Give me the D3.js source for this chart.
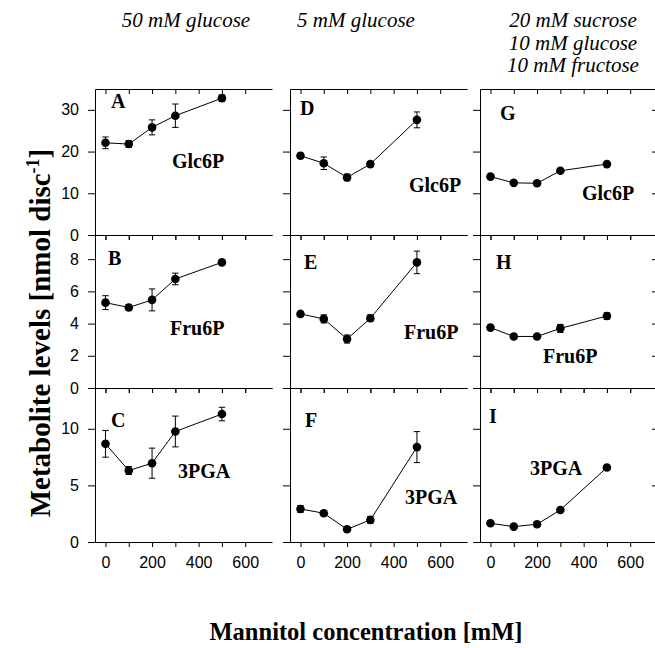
<!DOCTYPE html>
<meta charset="utf-8">
<style>
body { margin: 0; background: #fff; }
svg { display: block; }
.tick text { font-family: "Liberation Sans", Arial, sans-serif; font-size: 16px; fill: #000; }
.domain, .tick line { stroke: #000; stroke-width: 1; }
.lbl { font-family: 'Liberation Serif', 'DejaVu Serif', serif; font-weight: bold; fill: #000; }
.hdr { font-family: 'Liberation Serif', 'DejaVu Serif', serif; font-style: italic; font-size: 21px; fill: #000; }
</style>
<svg width="655" height="648"></svg>
<script src="https://cdn.jsdelivr.net/npm/d3@7"></script>
<script>

// mannitol concentration (mM)
var mannitol = [0, 100, 200, 300, 500];

// Glc6P (nmol/disc)
var glc6p_50glc = [22.1, 21.8, 25.8, 28.6, 32.8];
var glc6p_50glc_err = [1.4, 0.8, 1.8, 2.8, 0.8];
var glc6p_5glc = [19.0, 17.2, 13.8, 17.0, 27.6];
var glc6p_5glc_err = [0.6, 1.5, 0.8, 0.6, 1.9];
var glc6p_mix = [14.0, 12.5, 12.4, 15.4, 17.0];
var glc6p_mix_err = [0.4, 0.4, 0.4, 0.4, 0.4];

// Fru6P
var fru6p_50glc = [5.3, 5.0, 5.47, 6.77, 7.8];
var fru6p_50glc_err = [0.43, 0.15, 0.68, 0.36, 0.12];
var fru6p_5glc = [4.6, 4.29, 3.04, 4.33, 7.8];
var fru6p_5glc_err = [0.15, 0.25, 0.25, 0.2, 0.7];
var fru6p_mix = [3.75, 3.2, 3.2, 3.7, 4.47];
var fru6p_mix_err = [0.1, 0.1, 0.1, 0.25, 0.2];

// 3PGA
var pga_50glc = [8.67, 6.31, 6.96, 9.76, 11.3];
var pga_50glc_err = [1.18, 0.35, 1.33, 1.36, 0.6];
var pga_5glc = [2.92, 2.54, 1.12, 1.95, 8.38];
var pga_5glc_err = [0.3, 0.2, 0.1, 0.3, 1.37];
var pga_mix = [1.65, 1.36, 1.57, 2.83, 6.58];
var pga_mix_err = [0.1, 0.1, 0.1, 0.1, 0.1];

var headers = [["50 mM glucose"], ["5 mM glucose"], ["20 mM sucrose", "10 mM glucose", "10 mM fructose"]];
var compounds = ["Glc6P", "Fru6P", "3PGA"];
var letters = [["A", "D", "G"], ["B", "E", "H"], ["C", "F", "I"]];
var yTicks = [[0, 10, 20, 30], [0, 2, 4, 6, 8], [0, 5, 10]];
var yMax = [35, 9.5, 13.6];
var xTicks = [0, 100, 200, 300, 400, 500, 600];

var values = [
  [glc6p_50glc, glc6p_5glc, glc6p_mix],
  [fru6p_50glc, fru6p_5glc, fru6p_mix],
  [pga_50glc, pga_5glc, pga_mix]
];
var errors = [
  [glc6p_50glc_err, glc6p_5glc_err, glc6p_mix_err],
  [fru6p_50glc_err, fru6p_5glc_err, fru6p_mix_err],
  [pga_50glc_err, pga_5glc_err, pga_mix_err]
];

// layout
var colX = [95, 290, 480],
    rowTop = [89, 235, 388],
    rowBot = [235, 388, 542],
    panelW = 177;

// label offsets inside each panel [letter dx, dy, compound dx, dy]
var labelPos = [
  [[16, 19, 77, 79], [10, 26, 119, 103], [20, 31, 102, 111]],
  [[13, 30, 75, 100], [14, 34, 114, 104], [16, 34, 63, 128]],
  [[16, 39, 83, 90], [15, 39, 115, 116], [9, 35, 50, 87]]
];

var svg = d3.select("svg");
svg.append("rect").attr("width", 655).attr("height", 648).attr("fill", "#fff");

var x = d3.scaleLinear().domain([-45, 715]).range([0, panelW]);

for (var r = 0; r < 3; r++) {
  var y = d3.scaleLinear().domain([0, yMax[r]]).range([rowBot[r] - rowTop[r], 0]);
  var h = rowBot[r] - rowTop[r];
  for (var c = 0; c < 3; c++) {
    var g = svg.append("g").attr("transform", "translate(" + colX[c] + "," + rowTop[r] + ")");

    // left axis
    g.append("g")
      .call(d3.axisLeft(y).tickValues(yTicks[r]).tickSize(7).tickSizeOuter(0).tickPadding(9)
        .tickFormat(c == 0 ? d3.format("d") : ""));
    // top inward ticks
    g.append("g")
      .call(d3.axisBottom(x).tickValues(xTicks).tickSize(5).tickSizeOuter(0).tickFormat(""));
    // bottom
    g.append("g").attr("transform", "translate(0," + h + ")")
      .call(d3.axisBottom(x).tickValues(xTicks).tickSize(5).tickSizeOuter(0).tickPadding(10)
        .tickFormat(function(d) { return (r == 2 && d % 200 == 0) ? d : ""; }));
    if (c == 2) {
      g.append("g").attr("transform", "translate(" + (panelW) + ",0)")
        .call(d3.axisLeft(y).tickValues(yTicks[r]).tickSize(5).tickSizeOuter(0).tickFormat(""));
    }

    var pts = mannitol.map(function(m, i) { return {x: m, v: values[r][c][i], e: errors[r][c][i]}; });

    g.append("path")
      .datum(pts)
      .attr("fill", "none")
      .attr("stroke", "#000")
      .attr("stroke-width", 1)
      .attr("d", d3.line().x(function(d) { return x(d.x); }).y(function(d) { return y(d.v); }));

    var eb = g.selectAll(".err").data(pts).enter().append("g").attr("class", "err");
    eb.append("line")
      .attr("x1", function(d) { return x(d.x); }).attr("x2", function(d) { return x(d.x); })
      .attr("y1", function(d) { return y(d.v - d.e); }).attr("y2", function(d) { return y(d.v + d.e); })
      .attr("stroke", "#000");
    [-1, 1].forEach(function(s) {
      eb.append("line")
        .attr("x1", function(d) { return x(d.x) - 3.2; }).attr("x2", function(d) { return x(d.x) + 3.2; })
        .attr("y1", function(d) { return y(d.v + s * d.e); }).attr("y2", function(d) { return y(d.v + s * d.e); })
        .attr("stroke", "#000");
    });

    g.selectAll("circle").data(pts).enter().append("circle")
      .attr("cx", function(d) { return x(d.x); })
      .attr("cy", function(d) { return y(d.v); })
      .attr("r", 4.3)
      .attr("fill", "#000");

    var lp = labelPos[r][c];
    g.append("text").attr("class", "lbl").attr("x", lp[0]).attr("y", lp[1])
      .style("font-size", "20px").text(letters[r][c]);
    g.append("text").attr("class", "lbl").attr("x", lp[2]).attr("y", lp[3])
      .style("font-size", "20px").text(compounds[r]);
  }
}

// column headers
var hdrX = [186, 356, 573];
headers.forEach(function(lines, i) {
  lines.forEach(function(t, j) {
    svg.append("text").attr("class", "hdr")
      .attr("x", hdrX[i]).attr("y", 27 + j * 22.5)
      .attr("text-anchor", "middle").text(t);
  });
});

// axis titles
svg.append("text").attr("class", "lbl")
  .attr("x", 366).attr("y", 640)
  .attr("text-anchor", "middle")
  .style("font-size", "24.5px")
  .text("Mannitol concentration [mM]");

var yt = svg.append("text").attr("class", "lbl")
  .attr("transform", "translate(50,333) rotate(-90)")
  .attr("text-anchor", "middle")
  .style("font-size", "29px");
yt.append("tspan").text("Metabolite levels [nmol disc");
yt.append("tspan").attr("dy", -11).style("font-size", "18px").text("-1");
yt.append("tspan").attr("dy", 11).text("]");

</script>
